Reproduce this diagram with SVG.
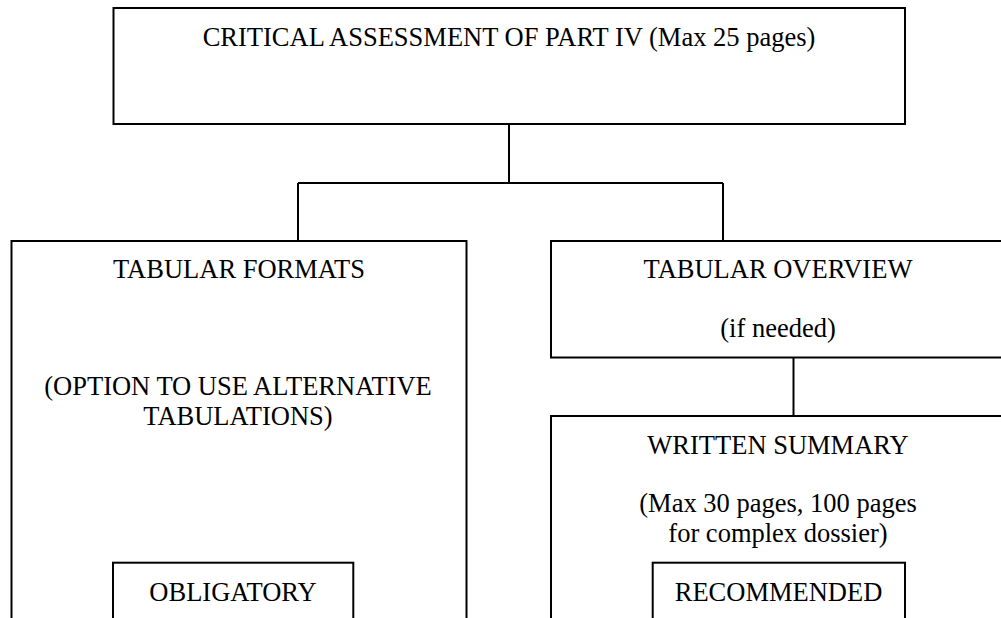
<svg xmlns="http://www.w3.org/2000/svg" width="1001" height="618" viewBox="0 0 1001 618">
<style>
.box{fill:#fff;stroke:#000;stroke-width:2}
.ln{fill:none;stroke:#000;stroke-width:2}
text{font-family:"Liberation Serif","Times New Roman",serif;font-size:26.5px;fill:#000;text-anchor:middle}
</style>
<rect width="1001" height="618" fill="#fff"/>
<g id="connectors">
<path class="ln" d="M509,124 V183 M298,183 H723 M298,183 V241 M723,183 V241"/>
<path class="ln" d="M793.5,357.5 V416"/>
</g>
<g id="critical-assessment">
<rect class="box" x="113.5" y="8" width="791.5" height="116"/>
<text x="509" y="45.7">CRITICAL ASSESSMENT OF PART IV (Max 25 pages)</text>
</g>
<g id="tabular-formats">
<rect class="box" x="11.5" y="241" width="455" height="400"/>
<text x="239" y="278.3">TABULAR FORMATS</text>
<text x="238" y="395">(OPTION TO USE ALTERNATIVE</text>
<text x="238" y="425">TABULATIONS)</text>
</g>
<g id="obligatory">
<rect class="box" x="113" y="562.7" width="240.3" height="80"/>
<text x="233" y="601">OBLIGATORY</text>
</g>
<g id="tabular-overview">
<rect class="box" x="551" y="241" width="455" height="116.5"/>
<text x="778" y="278.3">TABULAR OVERVIEW</text>
<text x="778" y="337">(if needed)</text>
</g>
<g id="written-summary">
<rect class="box" x="551" y="416" width="455" height="240"/>
<text x="778" y="454">WRITTEN SUMMARY</text>
<text x="778" y="511.7">(Max 30 pages, 100 pages</text>
<text x="778" y="541.5">for complex dossier)</text>
</g>
<g id="recommended">
<rect class="box" x="652.7" y="562.7" width="252.3" height="80"/>
<text x="778.5" y="601">RECOMMENDED</text>
</g>
</svg>
